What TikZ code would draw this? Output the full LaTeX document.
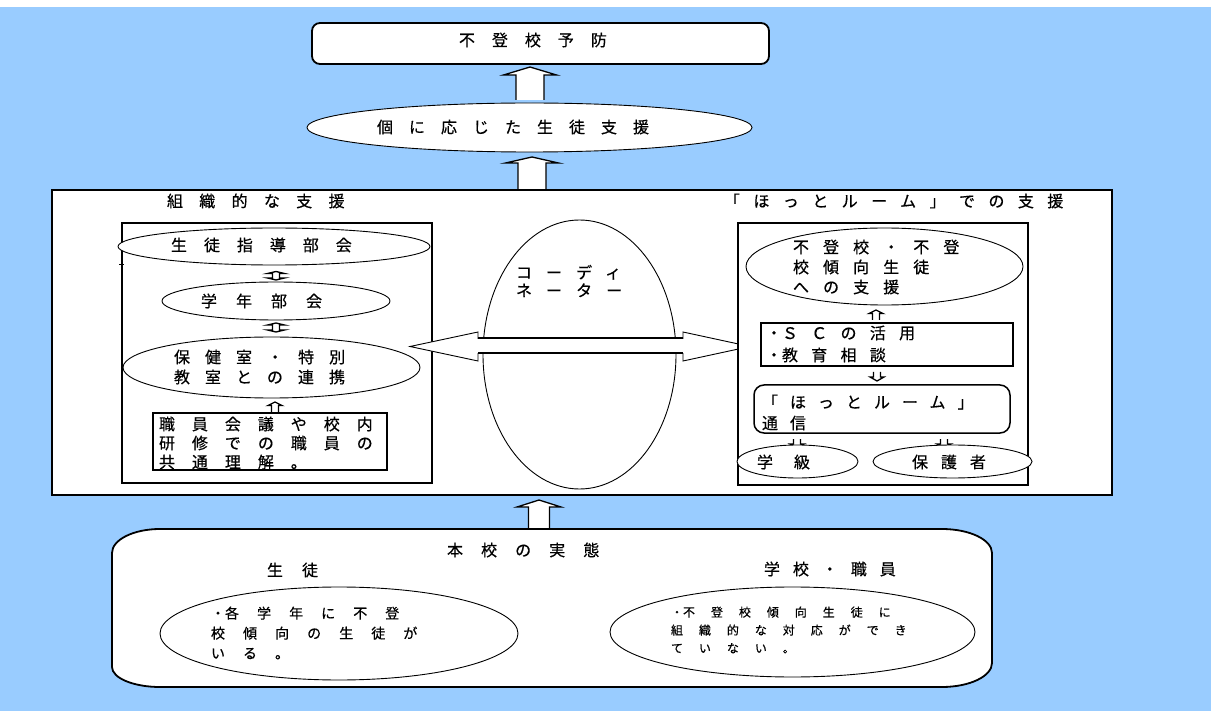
\documentclass[tikz,border=0pt]{standalone}
\usepackage{fontspec}
\setmainfont{Noto Sans CJK JP}[FakeBold=0.5]
\usetikzlibrary{shapes.geometric}
\definecolor{bg}{HTML}{99CCFF}
\newcommand\jdot{{\addfontfeatures{LetterSpace=0}・}}
\newcommand\arrowup[6]{%
  \fill[white] ({#1-#5},{#2}) -- ({#1-#5},{#3+(#6)}) -- ({#1-#4},{#3+(#6)}) -- ({#1},{#3}) -- ({#1+#4},{#3+(#6)}) -- ({#1+#5},{#3+(#6)}) -- ({#1+#5},{#2}) -- cycle;
  \draw[barrow] ({#1-#5},{#2}) -- ({#1-#5},{#3+(#6)}) -- ({#1-#4},{#3+(#6)}) -- ({#1},{#3}) -- ({#1+#4},{#3+(#6)}) -- ({#1+#5},{#3+(#6)}) -- ({#1+#5},{#2});}
\newcommand\arrowud[6]{%
  \filldraw[barrow,fill=white] ({#1},{#2}) -- ({#1+#4},{#2+#6}) -- ({#1+#5},{#2+#6}) -- ({#1+#5},{#3-#6}) -- ({#1+#4},{#3-#6}) -- ({#1},{#3}) -- ({#1-#4},{#3-#6}) -- ({#1-#5},{#3-#6}) -- ({#1-#5},{#2+#6}) -- ({#1-#4},{#2+#6}) -- cycle;}
\begin{document}
\begin{tikzpicture}[x=1pt,y=-1pt,
  every node/.style={inner sep=0pt,outer sep=0pt},
  thickbox/.style={draw,fill=white,rectangle,line width=1.8pt},
  oval/.style={draw,fill=white,ellipse,line width=0.9pt},
  barrow/.style={draw,line width=1.3pt,line join=miter},
  txt/.style n args={3}{anchor=west,align=left,font=\fontsize{#1}{#2}\selectfont\addfontfeatures{LetterSpace=#3}}]
\useasboundingbox (0,0) rectangle (1211,711);
\fill[bg] (0,7) rectangle (1211,711);

% top goal
\node[thickbox,rounded corners=8pt,minimum width=457,minimum height=41] (top) at (540.5,43.5) {};
\node[txt={16}{20}{106}] (topt) at (459,40) {不登校予防};
\arrowup{530}{100}{67}{26.5}{14}{8}
\node[oval,minimum width=445,minimum height=49] (e1) at (529.5,127.5) {};
\node[txt={16}{20}{100}] (e1t) at (377,127) {個に応じた生徒支援};
\arrowup{532}{190}{157}{26.5}{14}{6}

% middle big box
\node[thickbox,minimum width=1060,minimum height=305] (mid) at (582,342.5) {};
\node[txt={16}{20}{102}] (lt) at (167,201) {組織的な支援};
\node[txt={16}{20}{84}] (rt) at (724,201) {「ほっとルーム」での支援};

% left panel
\node[thickbox,minimum width=310,minimum height=260] (L) at (277,353) {};
\node[oval,minimum width=312,minimum height=37] (l1) at (274,246.5) {};
\node[txt={16}{20}{106}] (l1t) at (171,245) {生徒指導部会};
\draw[line width=0.8pt] (119,264) -- (124,264);
\arrowud{276}{271.5}{280}{8.5}{3.5}{2}
\node[oval,minimum width=228,minimum height=38] (l2) at (276,301) {};
\node[txt={16}{20}{119}] (l2t) at (201,301) {学年部会};
\arrowud{276}{323}{332}{8.5}{3.5}{2}
\node[oval,minimum width=297,minimum height=61] (l3) at (271.5,367.5) {};
\node[txt={16}{20}{94}] (l3t) at (174,367) {保健室・特別\\教室との連携};
\arrowup{275}{412}{402}{7}{3.5}{3.5}
\node[thickbox,minimum width=234,minimum height=57] (l4) at (270,441.5) {};
\node[txt={16}{19}{106}] (l4t) at (159,443) {職員会議や校内\\研修での職員の\\共通理解。};

% coordinator
\node[oval,minimum width=193,minimum height=269] (c) at (579.5,354.5) {};
\node[txt={16}{18}{88}] (ct) at (516,281) {コーディ\\ネーター};
\filldraw[fill=white,line width=0.9pt,line join=miter] (410,346.5) -- (478,332) -- (478,338.5) -- (683,338.5) -- (683,332) -- (750,346.5) -- (683,361) -- (683,353.5) -- (478,353.5) -- (478,361) -- cycle;
\draw[line width=2pt] (478,338.5) -- (683,338.5) (478,353.5) -- (683,353.5);

% right panel
\node[thickbox,minimum width=290,minimum height=262] (R) at (883,354) {};
\node[oval,minimum width=277,minimum height=77] (r1) at (884.5,266.5) {};
\node[txt={16}{20}{88}] (r1t) at (793,267) {不登校・不登\\校傾向生徒\\への支援};
\arrowup{876}{320}{310}{7}{3.5}{3.5}
\node[thickbox,minimum width=252,minimum height=43] (r2) at (887,344.5) {};
\node[txt={16}{22}{83}] (r2t) at (766,344) {\jdot ＳＣの活用\\\jdot 教育相談};
\arrowup{877}{372}{381}{7}{3.5}{-4}
\node[thickbox,rounded corners=10pt,line width=1.5pt,minimum width=256,minimum height=48] (r3) at (882,409) {};
\node[txt={16}{21}{75}] (r3t) at (762,412.5) {「ほっとルーム」\\通信};
\arrowup{797}{439}{447.5}{7}{3.5}{-3.5}
\arrowup{944}{439}{447.5}{7}{3.5}{-3.5}
\node[oval,minimum width=121,minimum height=33] (r4) at (797.5,461.5) {};
\node[txt={16}{20}{131}] (r4t) at (757,462) {学級};
\node[oval,minimum width=159,minimum height=33] (r5) at (952.5,461.5) {};
\node[txt={16}{20}{81}] (r5t) at (912,462) {保護者};

% bottom
\arrowup{539}{529}{500}{22}{10.5}{7}
\filldraw[fill=white,line width=1.8pt] (160,529) -- (942,529) arc[start angle=-90,end angle=0,x radius=50,y radius=24] -- (992,663) arc[start angle=0,end angle=90,x radius=50,y radius=24] -- (160,687) arc[start angle=90,end angle=180,x radius=48,y radius=20] -- (112,553) arc[start angle=180,end angle=270,x radius=48,y radius=24] -- cycle;
\coordinate (Btop) at (539,529);
\node[txt={16}{20}{113}] (bt) at (447,550) {本校の実態};
\node[txt={16}{20}{119}] (bl) at (267,570) {生徒};
\node[txt={16}{20}{81}] (br) at (764,569) {学校・職員};
\node[oval,minimum width=358,minimum height=93] (b1) at (339,633.5) {};
\node[txt={14}{20}{129}] (b1t) at (211,633) {\jdot 各学年に不登\\校傾向の生徒が\\いる。};
\node[oval,minimum width=365,minimum height=90] (b2) at (792.5,632) {};
\node[txt={12}{18}{133}] (b2t) at (671,630) {\jdot 不登校傾向生徒に\\組織的な対応ができ\\ていない。};
\end{tikzpicture}
\end{document}
